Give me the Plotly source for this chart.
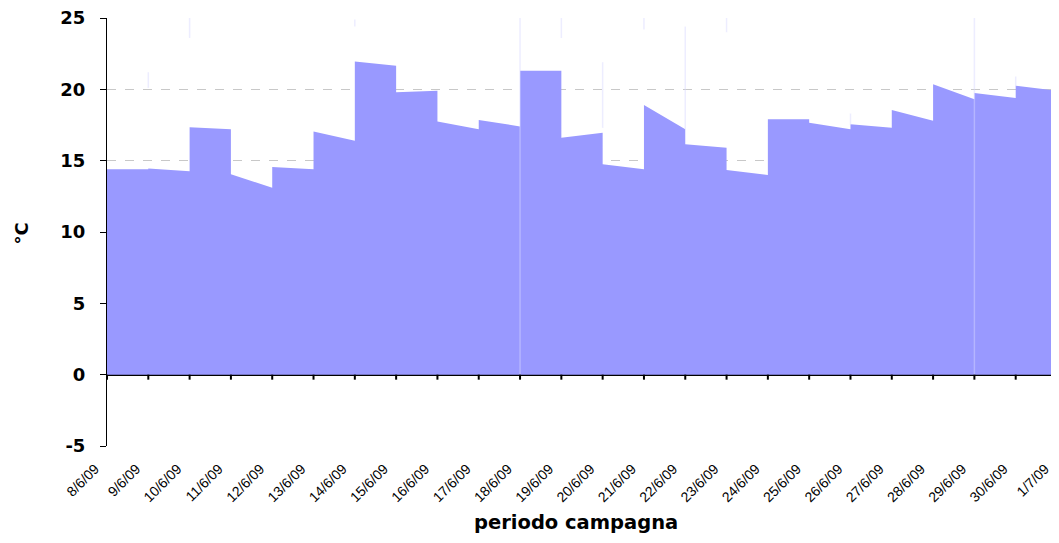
import plotly.graph_objects as go

dates = ["8/6/09", "9/6/09", "10/6/09", "11/6/09", "12/6/09", "13/6/09", "14/6/09",
         "15/6/09", "16/6/09", "17/6/09", "18/6/09", "19/6/09", "20/6/09", "21/6/09",
         "22/6/09", "23/6/09", "24/6/09", "25/6/09", "26/6/09", "27/6/09", "28/6/09",
         "29/6/09", "30/6/09", "1/7/09"]

# temperature at start and end of each day (°C)
day_start = [14.4, 14.45, 17.35, 14.05, 14.55, 17.05, 21.95, 19.8, 17.75, 17.85, 21.3, 16.6,
             14.75, 18.9, 16.15, 14.35, 17.9, 17.65, 17.55, 18.55, 20.35, 19.75, 20.25]
day_end = [14.4, 14.25, 17.2, 13.1, 14.4, 16.4, 21.65, 19.9, 17.2, 17.4, 21.3, 16.95,
           14.4, 17.2, 15.9, 14.0, 17.9, 17.2, 17.3, 17.8, 19.3, 19.4, 19.9]

# faint vertical spikes at day boundaries (boundary index, top, bottom)
spike_k = [1, 2, 6, 10, 11, 12, 13, 14, 15, 18, 21, 22, 23]
spike_top = [21.2, 25.0, 24.9, 25.0, 25.0, 21.9, 25.0, 24.4, 25.0, 18.3, 25.0, 20.9, 21.1]
spike_bottom = [20.1, 23.6, 24.4, 0.0, 23.6, 17.3, 24.2, 17.2, 24.0, 17.5, 0.0, 20.2, 20.3]

yticks = [-5, 0, 5, 10, 15, 20, 25]
ytick_text = ["-5", "0", "5", "10", "15", "20", "25"]

xs, ys = [], []
for i, (a, b) in enumerate(zip(day_start, day_end)):
    xs += [i, i + 1]
    ys += [a, b]

sx, sy = [], []
for k, t, b in zip(spike_k, spike_top, spike_bottom):
    sx += [k, k, None]
    sy += [t, b, None]

fig = go.Figure()
fig.add_trace(go.Scatter(x=xs, y=ys, mode="lines", line=dict(width=0),
                         fill="tozeroy", fillcolor="#9999FF", hoverinfo="skip"))
fig.add_trace(go.Scatter(x=sx, y=sy, mode="lines",
                         line=dict(width=1.5, color="rgba(215,215,255,0.45)"),
                         hoverinfo="skip", cliponaxis=False))

# tick marks on the zero axis line
for k in range(len(dates)):
    fig.add_shape(type="line", xref="x", yref="y", x0=k, x1=k,
                  ysizemode="pixel", yanchor=0, y0=0, y1=-5,
                  line=dict(color="black", width=2))

fig.add_annotation(text="periodo campagna", xref="paper", yref="paper",
                   x=0.494, y=-0.1776, showarrow=False, xanchor="center", yanchor="middle",
                   font=dict(family="DejaVu Sans", size=19.5, weight="bold", color="black"))
fig.add_annotation(text="°C", xref="paper", yref="paper", textangle=-90,
                   x=-0.0905, y=0.4965, showarrow=False, xanchor="center", yanchor="middle",
                   font=dict(family="DejaVu Sans", size=18, weight="bold", color="black"))

# the page body has an 8px margin, so the figure is sized to fit the window
fig.update_layout(
    width=1051, height=535,
    margin=dict(l=99, r=2, t=10, b=97),
    paper_bgcolor="white", plot_bgcolor="white",
    showlegend=False,
    font=dict(family="Liberation Sans, Arial, sans-serif", color="black"),
    xaxis=dict(range=[0, len(dates) - 1], tickmode="array",
               tickvals=list(range(len(dates))), ticktext=dates,
               tickangle=-45, tickfont=dict(size=14), showgrid=False,
               showline=False, ticks="", zeroline=False, automargin=False,
               ticklabelshift=-12, ticklabelstandoff=11, ticklabeloverflow="allow"),
    yaxis=dict(range=[-5, 25], tickmode="array", tickvals=yticks, ticktext=ytick_text,
               tickfont=dict(family="DejaVu Sans", size=18, weight="bold"),
               showgrid=True, gridcolor="#C8C8C8", griddash="dash", gridwidth=1,
               showline=True, linecolor="black", linewidth=1,
               ticks="outside", ticklen=6, tickcolor="black",
               zeroline=True, zerolinecolor="black", zerolinewidth=2,
               automargin=False, ticklabelstandoff=11, ticklabeloverflow="allow"),
)

fig.write_html("out.html")
